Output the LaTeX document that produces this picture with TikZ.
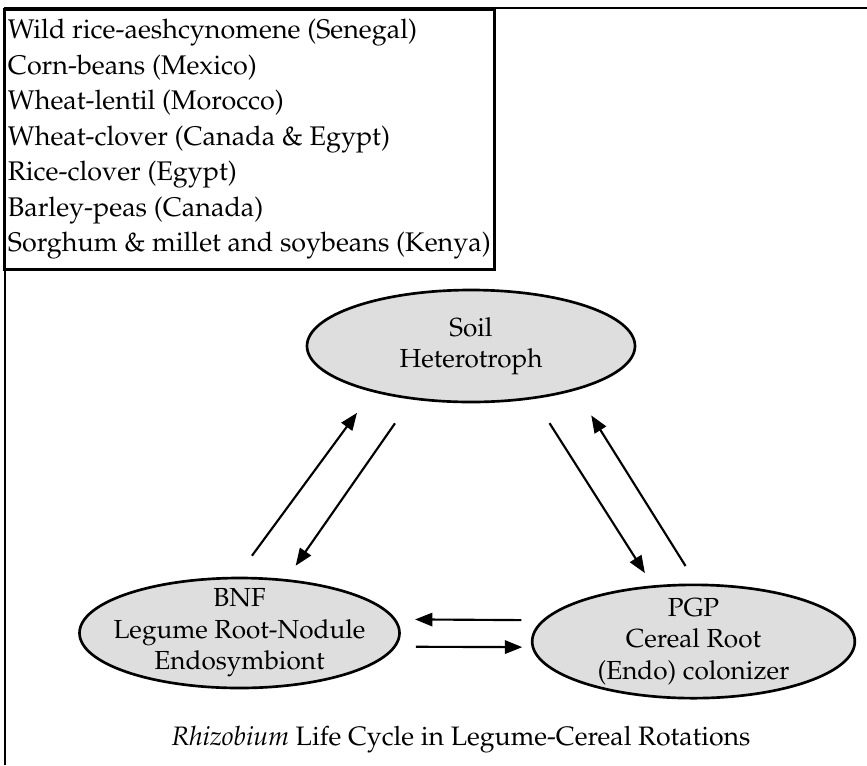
\documentclass[tikz,border=0pt]{standalone}
\usepackage[T1]{fontenc}
\usepackage{mathpazo}
\usetikzlibrary{shapes,arrows.meta,positioning,calc}

\begin{document}
\begin{tikzpicture}[
    x=0.75pt, y=-0.75pt,
    frame/.style={line width=1.5pt},
    listbox/.style={rectangle, draw, line width=2pt, align=left, minimum width=367.5pt, minimum height=195pt, inner sep=0pt, font=\fontsize{20.2}{26.6}\selectfont},
    cell/.style={ellipse, draw, line width=2pt, fill=black!13, inner sep=0pt},
    celltext/.style={align=center, font=\fontsize{19.6}{23.6}\selectfont},
    captext/.style={font=\fontsize{20}{24}\selectfont},
    arrow/.style={line width=1.6pt, -{Triangle[length=13pt,width=10pt]}}
]

\useasboundingbox (0,0) rectangle (867,765);
\draw [frame] (867,8) -- (5,8) -- (5,765);

\node [listbox, anchor=north west] (crops) at (3,8) {Wild rice-aeshcynomene (Senegal)\\Corn-beans (Mexico)\\Wheat-lentil (Morocco)\\Wheat-clover (Canada \& Egypt)\\Rice-clover (Egypt)\\Barley-peas (Canada)\\Sorghum \& millet and soybeans (Kenya)};

\node [cell, minimum width=246pt, minimum height=84pt, label={[celltext]center:{Soil\\Heterotroph}}] (soil) at (471,346) {};
\node [cell, minimum width=240pt, minimum height=82.5pt, label={[celltext]center:{BNF\\Legume Root-Nodule\\Endosymbiont}}] (bnf) at (239.5,633) {};
\node [cell, minimum width=242pt, minimum height=85pt, label={[celltext]center:{PGP\\Cereal Root\\(Endo) colonizer}}] (pgp) at (693.5,641.5) {};

\node [captext] (title) at (461,740) {\textit{Rhizobium} Life Cycle in Legume-Cereal Rotations};

\draw [arrow, shorten <=19.5pt, shorten >=19.4pt] (bnf.93) -- (soil.205);
\draw [arrow, shorten <=21.8pt, shorten >=12.2pt] (soil.222) -- (bnf.49);
\draw [arrow, shorten <=21.5pt, shorten >=10.9pt] (soil.320) -- (pgp.126);
\draw [arrow, shorten <=15.5pt, shorten >=22.1pt] (pgp.87) -- (soil.337);
\draw [arrow, shorten <=15.6pt, shorten >=14.3pt] (pgp.172) -- (bnf.5);
\draw [arrow, shorten <=14.9pt, shorten >=7pt] (bnf.355) -- (pgp.182);

\end{tikzpicture}
\end{document}
